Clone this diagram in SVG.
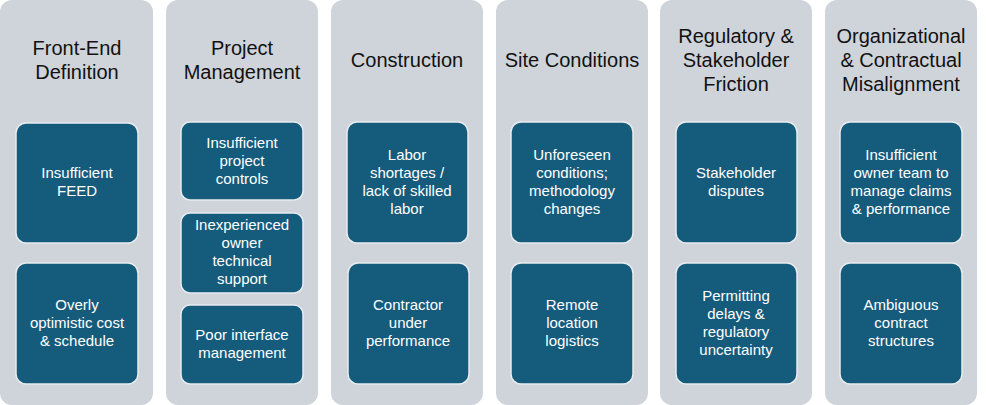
<svg xmlns="http://www.w3.org/2000/svg" width="986" height="405" viewBox="0 0 986 405">
<style>
.col{fill:#cfd4da}
.box{fill:#155b7c;stroke:#e8ecef;stroke-width:1.5}
.t{font-family:"Liberation Sans",Arial,sans-serif;font-size:20px;fill:#111;text-anchor:middle}
.b{font-family:"Liberation Sans",Arial,sans-serif;font-size:15px;fill:#fff;text-anchor:middle}
</style>
<rect width="986" height="405" fill="#fff"/>
<g id="col1"><rect class="col" x="0" y="0" width="153" height="405" rx="12"/>
<text class="t" x="77" y="55">Front-End</text><text class="t" x="77" y="79">Definition</text></g>
<g id="col2"><rect class="col" x="166" y="0" width="152" height="405" rx="12"/>
<text class="t" x="242" y="55">Project</text><text class="t" x="242" y="79">Management</text></g>
<g id="col3"><rect class="col" x="331" y="0" width="152" height="405" rx="12"/>
<text class="t" x="407" y="67">Construction</text></g>
<g id="col4"><rect class="col" x="496" y="0" width="152" height="405" rx="12"/>
<text class="t" x="572" y="67">Site Conditions</text></g>
<g id="col5"><rect class="col" x="660" y="0" width="152" height="405" rx="12"/>
<text class="t" x="736" y="43">Regulatory &amp;</text><text class="t" x="736" y="67">Stakeholder</text><text class="t" x="736" y="91">Friction</text></g>
<g id="col6"><rect class="col" x="825" y="0" width="152" height="405" rx="12"/>
<text class="t" x="901" y="43">Organizational</text><text class="t" x="901" y="67">&amp; Contractual</text><text class="t" x="901" y="91">Misalignment</text></g>

<g id="n1"><rect class="box" x="16" y="123" width="122" height="120" rx="10"/><text class="b" x="77" y="178">Insufficient</text><text class="b" x="77" y="196">FEED</text></g>
<g id="n2"><rect class="box" x="16" y="263" width="122" height="121" rx="10"/><text class="b" x="77" y="310">Overly</text><text class="b" x="77" y="328">optimistic cost</text><text class="b" x="77" y="346">&amp; schedule</text></g>
<g id="n3"><rect class="box" x="181" y="122" width="122" height="78" rx="9"/><text class="b" x="242" y="148">Insufficient</text><text class="b" x="242" y="166">project</text><text class="b" x="242" y="184">controls</text></g>
<g id="n4"><rect class="box" x="181" y="213" width="122" height="80" rx="9"/><text class="b" x="242" y="230">Inexperienced</text><text class="b" x="242" y="248">owner</text><text class="b" x="242" y="266">technical</text><text class="b" x="242" y="284">support</text></g>
<g id="n5"><rect class="box" x="181" y="305" width="122" height="79" rx="9"/><text class="b" x="242" y="340">Poor interface</text><text class="b" x="242" y="358">management</text></g>
<g id="n6"><rect class="box" x="347" y="122" width="121" height="121" rx="10"/><text class="b" x="407" y="160">Labor</text><text class="b" x="407" y="178">shortages /</text><text class="b" x="407" y="196">lack of skilled</text><text class="b" x="407" y="214">labor</text></g>
<g id="n7"><rect class="box" x="348" y="263" width="121" height="121" rx="10"/><text class="b" x="408" y="310">Contractor</text><text class="b" x="408" y="328">under</text><text class="b" x="408" y="346">performance</text></g>
<g id="n8"><rect class="box" x="511" y="122" width="122" height="121" rx="10"/><text class="b" x="572" y="160">Unforeseen</text><text class="b" x="572" y="178">conditions;</text><text class="b" x="572" y="196">methodology</text><text class="b" x="572" y="214">changes</text></g>
<g id="n9"><rect class="box" x="511" y="263" width="122" height="121" rx="10"/><text class="b" x="572" y="310">Remote</text><text class="b" x="572" y="328">location</text><text class="b" x="572" y="346">logistics</text></g>
<g id="n10"><rect class="box" x="676" y="122" width="121" height="121" rx="10"/><text class="b" x="736" y="178">Stakeholder</text><text class="b" x="736" y="196">disputes</text></g>
<g id="n11"><rect class="box" x="676" y="263" width="121" height="121" rx="10"/><text class="b" x="736" y="301">Permitting</text><text class="b" x="736" y="319">delays &amp;</text><text class="b" x="736" y="337">regulatory</text><text class="b" x="736" y="355">uncertainty</text></g>
<g id="n12"><rect class="box" x="840" y="122" width="122" height="121" rx="10"/><text class="b" x="901" y="160">Insufficient</text><text class="b" x="901" y="178">owner team to</text><text class="b" x="901" y="196">manage claims</text><text class="b" x="901" y="214">&amp; performance</text></g>
<g id="n13"><rect class="box" x="840" y="263" width="122" height="121" rx="10"/><text class="b" x="901" y="310">Ambiguous</text><text class="b" x="901" y="328">contract</text><text class="b" x="901" y="346">structures</text></g>
<g id="connectors"/>
</svg>
